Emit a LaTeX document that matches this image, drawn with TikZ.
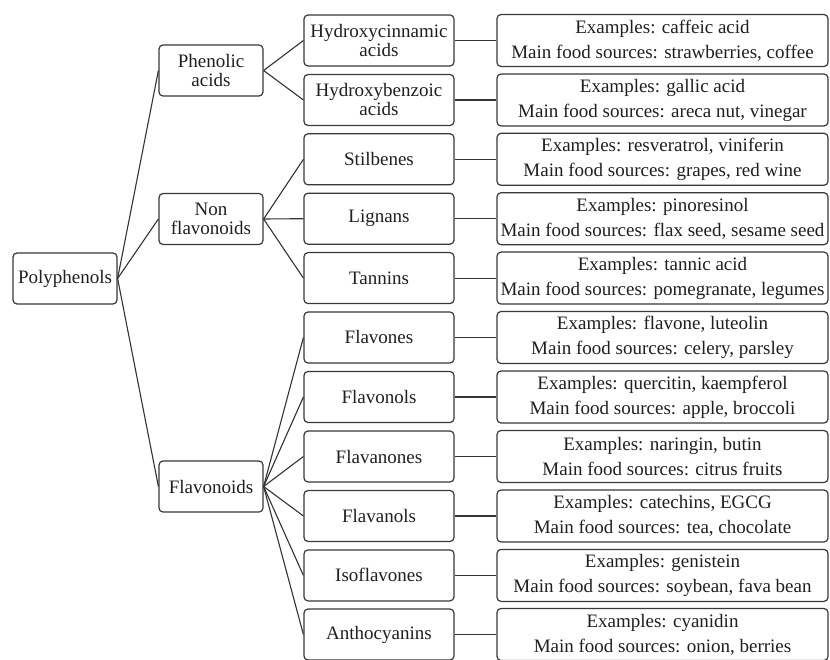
\documentclass[tikz,border=0pt]{standalone}
\usepackage{fontspec}
\setmainfont{Liberation Serif}
\begin{document}
\begin{tikzpicture}[x=1pt,y=-1pt,
  every node/.style={inner sep=0pt,align=center,text=black!88},
  basebox/.style={draw=black!78,line width=1.2pt,rounded corners=4pt},
  catbox/.style={basebox,minimum height=51pt,font=\fontsize{19}{19}\selectfont},
  lvltwo/.style={catbox,minimum width=104pt},
  lvlthree/.style={catbox,minimum width=150pt},
  infobox/.style={basebox,minimum width=331pt,minimum height=52pt,font=\fontsize{19}{25}\selectfont},
  link/.style={draw=black!80,line width=1.1pt}]
\useasboundingbox (0,0) rectangle (830,660);
% level 1
\node[lvltwo] (poly) at (65,278.5) {Polyphenols};
% level 2
\node[lvltwo] (phen) at (211,70.5) {Phenolic\\acids};
\node[lvltwo] (nonf) at (211,219) {Non\\flavonoids};
\node[lvltwo] (flav) at (211,486.5) {Flavonoids};
% level 3
\node[lvlthree] (c1) at (379,40.5) {Hydroxycinnamic\\acids};
\node[lvlthree] (c2) at (379,100) {Hydroxybenzoic\\acids};
\node[lvlthree] (c3) at (379,159.3) {Stilbenes};
\node[lvlthree] (c4) at (379,218.7) {Lignans};
\node[lvlthree] (c5) at (379,278.1) {Tannins};
\node[lvlthree] (c6) at (379,337.5) {Flavones};
\node[lvlthree] (c7) at (379,397) {Flavonols};
\node[lvlthree] (c8) at (379,456.5) {Flavanones};
\node[lvlthree] (c9) at (379,516) {Flavanols};
\node[lvlthree] (c10) at (379,575.4) {Isoflavones};
\node[lvlthree] (c11) at (379,634.5) {Anthocyanins};
% level 4
\node[infobox] (r1) at (662.5,40.5) {Examples: caffeic acid\\Main food sources: strawberries, coffee};
\node[infobox] (r2) at (662.5,100) {Examples: gallic acid\\Main food sources: areca nut, vinegar};
\node[infobox] (r3) at (662.5,159.3) {Examples: resveratrol, viniferin\\Main food sources: grapes, red wine};
\node[infobox] (r4) at (662.5,218.7) {Examples: pinoresinol\\Main food sources: flax seed, sesame seed};
\node[infobox] (r5) at (662.5,278.1) {Examples: tannic acid\\Main food sources: pomegranate, legumes};
\node[infobox] (r6) at (662.5,337.5) {Examples: flavone, luteolin\\Main food sources: celery, parsley};
\node[infobox] (r7) at (662.5,397) {Examples: quercitin, kaempferol\\Main food sources: apple, broccoli};
\node[infobox] (r8) at (662.5,456.5) {Examples: naringin, butin\\Main food sources: citrus fruits};
\node[infobox] (r9) at (662.5,516) {Examples: catechins, EGCG\\Main food sources: tea, chocolate};
\node[infobox] (r10) at (662.5,575.4) {Examples: genistein\\Main food sources: soybean, fava bean};
\node[infobox] (r11) at (662.5,634.5) {Examples: cyanidin\\Main food sources: onion, berries};
% connectors
\foreach \t in {phen,nonf,flav} \draw[link] (poly.east) -- (\t.west);
\foreach \t in {c1,c2} \draw[link] (phen.east) -- (\t.west);
\foreach \t in {c3,c4,c5} \draw[link] (nonf.east) -- (\t.west);
\foreach \t in {c6,c7,c8,c9,c10,c11} \draw[link] (flav.east) -- (\t.west);
\foreach \i in {1,...,11} \draw[link] (c\i.east) -- (r\i.west);
\end{tikzpicture}
\end{document}
